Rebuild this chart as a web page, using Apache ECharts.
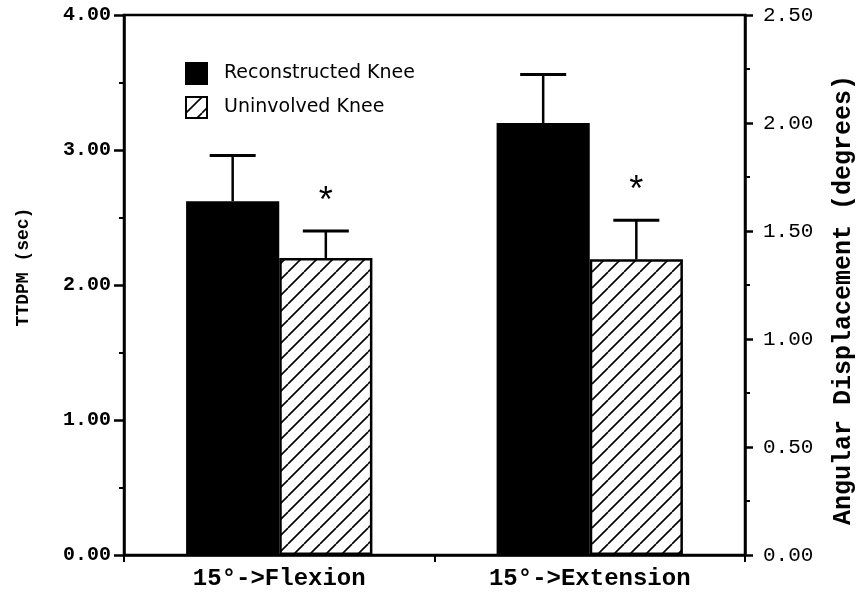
<!DOCTYPE html>
<html>
<head>
<meta charset="utf-8">
<script src="https://cdn.jsdelivr.net/npm/echarts@6/dist/echarts.min.js"></script>
<style>html,body{margin:0;padding:0;background:#fff}#c{width:864px;height:595px}</style>
</head>
<body>
<div id="c"></div>
<script>
// ---- data ----
var categories = ['15°->Flexion', '15°->Extension'];
var seriesNames = ['Reconstructed Knee', 'Uninvolved Knee'];
var reconstructed = [2.62, 3.20];
var reconstructedErr = [0.34, 0.36];
var uninvolved = [2.20, 2.19];
var uninvolvedErr = [0.20, 0.29];
var uninvolvedSig = ['*', '*'];
var leftTicks = [0, 1, 2, 3, 4];
var rightTicks = [0, 0.5, 1, 1.5, 2, 2.5];

// ---- hatch pattern ----
var tile = document.createElement('canvas');
tile.width = 16; tile.height = 16;
var g = tile.getContext('2d');
g.fillStyle = '#fff'; g.fillRect(0, 0, 16, 16);
g.strokeStyle = '#000'; g.lineWidth = 1.6;
[[-16, 0], [0, 0], [16, 0]].forEach(function (o) {
  g.beginPath(); g.moveTo(o[0], 16); g.lineTo(o[0] + 16, 0); g.stroke();
});

var chart = echarts.init(document.getElementById('c'));
var mono = 'Liberation Mono';

function errData(vals, errs, side, sig) {
  return vals.map(function (v, i) { return [i, v, errs[i], side, sig ? sig[i] : '']; });
}
function renderErr(params, api) {
  var x = api.value(0), v = api.value(1), e = api.value(2), side = api.value(3);
  var sig = api.value(4);
  var band = api.size([1, 0])[0];
  var off = band * 0.15 * side;
  var b = api.coord([x, v]);
  var t = api.coord([x, v + e]);
  var cx = b[0] + off;
  var half = 23;
  var children = [
    { type: 'line', shape: { x1: cx, y1: b[1], x2: cx, y2: t[1] }, style: { stroke: '#000', lineWidth: 2.5 } },
    { type: 'line', shape: { x1: cx - half, y1: t[1], x2: cx + half, y2: t[1] }, style: { stroke: '#000', lineWidth: 3 } }
  ];
  if (sig) {
    children.push({ type: 'text', style: { x: cx, y: t[1] - 28, text: sig, fontFamily: mono, fontSize: 36, fill: '#000', align: 'center', verticalAlign: 'middle' } });
  }
  return { type: 'group', children: children };
}

chart.setOption({
  animation: false,
  backgroundColor: '#fff',
  grid: { left: 124, right: 119, top: 15, bottom: 40, show: true, borderColor: '#000', borderWidth: 2.5, backgroundColor: 'transparent', outerBoundsMode: 'none', containLabel: false },
  legend: {
    left: 180, top: 57, orient: 'vertical', itemWidth: 21, itemHeight: 21, itemGap: 11,
    data: seriesNames, icon: 'rect',
    textStyle: { fontFamily: 'DejaVu Sans', fontSize: 19, color: '#000', padding: [0, 0, 0, 12] }
  },
  xAxis: {
    type: 'category', data: categories,
    axisLine: { lineStyle: { color: '#000', width: 2.5 } },
    axisTick: { show: true, length: 7, lineStyle: { color: '#000', width: 2 } },
    axisLabel: { fontFamily: mono, fontWeight: 'bold', fontSize: 24, color: '#000', margin: 12 }
  },
  yAxis: [{
    type: 'value', min: 0, max: 4, interval: 1, position: 'left',
    name: 'TTDPM (sec)', nameLocation: 'middle', nameRotate: 90, nameGap: 92,
    nameTextStyle: { fontFamily: mono, fontWeight: 'bold', fontSize: 18, color: '#000', padding: [0, 0, 0, 36] },
    axisLine: { show: true, lineStyle: { color: '#000', width: 2.5 } },
    axisTick: { show: true, length: 10, lineStyle: { color: '#000', width: 2.5 } },
    minorTick: { show: true, splitNumber: 2, length: 5, lineStyle: { color: '#000', width: 2 } },
    splitLine: { show: false },
    axisLabel: { fontFamily: mono, fontWeight: 'bold', fontSize: 20, color: '#000', margin: 13,
      formatter: function (v) { return v.toFixed(2); } }
  }, {
    type: 'value', min: 0, max: 2.5, interval: 0.5, position: 'right',
    name: 'Angular Displacement (degrees)', nameLocation: 'middle', nameRotate: 90, nameGap: 86,
    nameTextStyle: { fontFamily: mono, fontWeight: 'bold', fontSize: 25, color: '#000', padding: [0, 30, 0, 0] },
    axisLine: { show: true, lineStyle: { color: '#000', width: 2.5 } },
    axisTick: { show: true, length: 8, lineStyle: { color: '#000', width: 2.5 } },
    minorTick: { show: true, splitNumber: 2, length: 5, lineStyle: { color: '#000', width: 2 } },
    splitLine: { show: false },
    axisLabel: { fontFamily: mono, fontSize: 21, color: '#000', margin: 18,
      formatter: function (v) { return v.toFixed(2); } }
  }],
  series: [{
    name: seriesNames[0], type: 'bar', data: reconstructed, barGap: 0, barCategoryGap: '40%',
    itemStyle: { color: '#000', borderColor: '#000', borderWidth: 2 }
  }, {
    name: seriesNames[1], type: 'bar', data: uninvolved, barGap: 0, barCategoryGap: '40%',
    itemStyle: { color: { image: tile, repeat: 'repeat' }, borderColor: '#000', borderWidth: 2.5 }
  }, {
    type: 'custom', renderItem: renderErr, data: errData(reconstructed, reconstructedErr, -1), z: 3
  }, {
    type: 'custom', renderItem: renderErr, data: errData(uninvolved, uninvolvedErr, 1, uninvolvedSig), z: 3
  }]
});
</script>
</body>
</html>
